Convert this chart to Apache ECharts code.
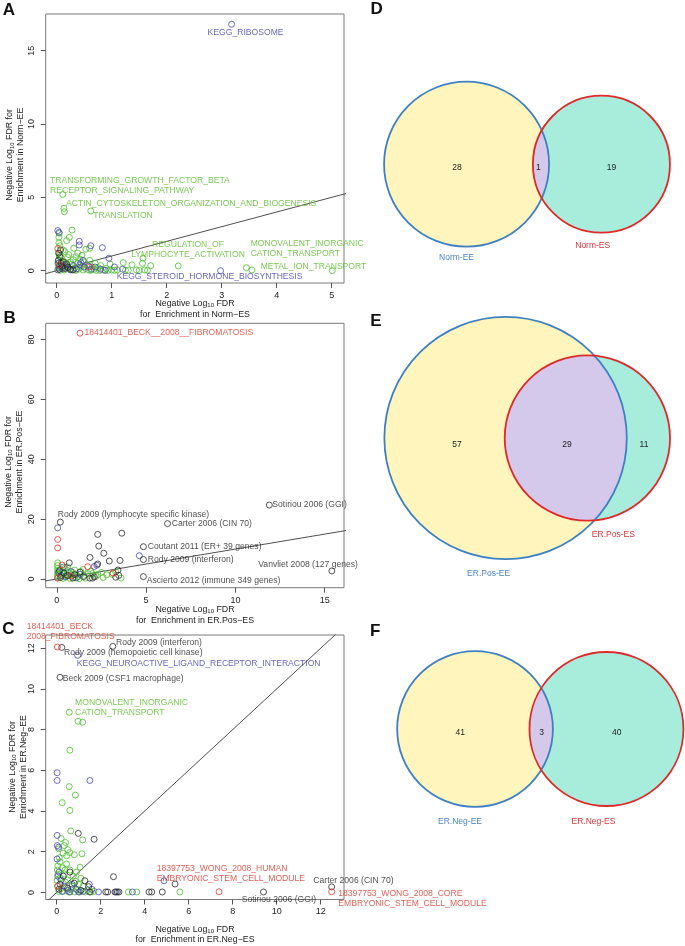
<!DOCTYPE html>
<html><head><meta charset="utf-8">
<script src="https://cdn.jsdelivr.net/npm/echarts@6/dist/echarts.min.js"></script>
<style>html,body{margin:0;padding:0;background:#fff}#c{width:685px;height:946px}</style>
</head><body><div id="c"></div>
<script>
// ================= DATA =================
const aTicksX = [0,1,2,3,4,5];
const aTicksY = [0,5,10,15];
const bTicksX = [0,5,10,15];
const bTicksY = [0,20,40,60,80];
const cTicksX = [0,2,4,6,8,10,12];
const cTicksY = [0,2,4,6,8,10,12];

// Panel A (x: Norm-ES, y: Norm-EE)
const aGreen = [[0.11,5.2],[0.13,4.25],[0.14,4.02],[0.62,4.07],[0.05,2.55],[0.04,2.28],[0.28,2.77],[0.23,2.27],[0.18,2.05],
[0.31,1.53],[0.53,1.46],[0.6,1.53],[0.04,1.9],[0.06,1.7],[0.03,1.2],[0.05,1.05],[0.08,0.9],[0.04,0.75],[0.1,0.6],[0.02,0.5],[0.07,0.35],[0.03,0.2],[0.12,0.1],
[0.2,0.9],[0.25,0.6],[0.3,0.75],[0.35,0.95],[0.38,0.5],[0.42,0.8],[0.45,0.3],[0.5,0.6],[0.55,0.4],[0.6,0.7],[0.65,0.25],[0.7,0.5],[0.75,0.2],[0.8,0.35],
[0.18,0.3],[0.22,0.15],[0.28,0.05],[0.33,0.2],[0.4,0.1],[0.48,0.05],[0.52,0.15],[0.58,0.05],[0.68,0.1],[0.72,0.02],[0.85,0.05],[0.9,0.15],[0.97,0.45],[1.0,0.05],[1.05,0.02],[1.1,0.05],[1.21,0.55],[1.25,0.03],[1.3,0.02],[1.37,0.4],[1.45,0.05],[1.5,0.02],[1.56,0.5],[1.57,0.85],[1.6,0.05],[1.71,0.34],[1.65,0.02],
[2.21,0.32],[3.45,0.2],[3.55,0.05],[5.01,0.0],
[0.15,1.3],[0.22,1.1],[0.12,1.4],[0.38,1.2],[0.46,1.05],[0.27,0.45],[0.16,0.55],[0.09,0.2],[0.14,0.05],[0.06,0.02],[0.35,0.02],[0.62,0.02],[0.78,0.02],[0.93,0.02]];
const aBlue = [[3.18,16.8],[0.02,2.73],[0.04,2.6],[0.41,2.0],[0.41,1.75],[0.62,1.7],[0.83,1.57],[0.95,0.85],[2.98,0.0],
[0.03,0.5],[0.05,0.3],[0.1,0.15],[0.15,0.4],[0.2,0.2],[0.3,0.35],[0.36,0.12],[0.44,0.55],[0.5,0.25],[0.58,0.3],[0.63,0.1],[0.7,0.25],[0.48,0.7],[0.42,0.4],[0.25,0.05],[0.8,0.1],[0.02,0.05],[1.05,0.25],[1.2,0.1],[0.88,0.02]];
const aBlack = [[0.07,1.42],[0.04,1.2],[0.06,0.95],[0.03,0.7],[0.08,0.5],[0.1,0.3],[0.05,0.1],[0.15,0.15],[0.2,0.25],[0.25,0.1],[0.12,0.6],[0.3,0.05],[0.18,0.45]];
const aRed = [[0.02,1.5],[0.6,0.25],[0.05,0.4]];
const aLabels = [
 [3.18,16.8,'KEGG_RIBOSOME','blue'],
 [0.11,5.2,'TRANSFORMING_GROWTH_FACTOR_BETA\nRECEPTOR_SIGNALING_PATHWAY','green'],
 [0.13,4.25,'ACTIN_CYTOSKELETON_ORGANIZATION_AND_BIOGENESIS','green'],
 [0.62,4.07,'TRANSLATION','green'],
 [1.57,0.85,'REGULATION_OF\nLYMPHOCYTE_ACTIVATION','green'],
 [3.45,0.2,'MONOVALENT_INORGANIC\nCATION_TRANSPORT','green'],
 [3.55,0.05,'METAL_ION_TRANSPORT','green'],
 [2.98,0,'KEGG_STEROID_HORMONE_BIOSYNTHESIS','blue']
];

// Panel B (x: ER.Pos-ES, y: ER.Pos-EE)
const bGreen = [[0.05,5.4],[0.6,4.0],[1.47,3.2],[2.5,2.2],[2.8,1.4],[3.6,0.3],[2.0,1.8],[0.05,4.5],[0.05,3.6],[0.05,2.8],[0.05,2.0],[0.05,1.2],[0.05,0.5],
[0.2,3.2],[0.3,2.4],[0.4,1.5],[0.5,0.6],[0.6,2.8],[0.7,1.9],[0.8,0.9],[0.9,2.2],[1.0,0.4],[1.1,1.4],[1.2,0.8],[1.35,2.5],[1.5,1.2],[1.6,0.3],[1.75,1.8],[1.9,2.6],
[2.2,0.9],[2.3,1.5],[1.0,3.0],[0.35,0.2],[0.15,1.7],[0.75,0.2],[1.25,0.1],[2.6,0.5],[0.45,3.6],[0.85,1.4],[3.1,1.6],[3.3,2.4],[0.25,0.9],[0.55,1.1]];
const bBlue = [[0.05,17.1],[4.62,7.8],[2.24,4.6],[0.37,4.0],[1.3,1.6],[0.1,2.2],[0.5,0.8],[0.8,2.5],[1.1,0.4],[0.25,1.2],[2.1,4.2]];
const bBlack = [[11.9,24.7],[0.2,19.0],[6.2,18.5],[4.85,10.8],[4.85,6.5],[15.4,2.7],[4.85,0.8],[2.29,14.9],[3.64,15.3],[2.35,11.0],[2.63,8.6],[1.86,7.2],[2.94,6.0],[3.54,6.2],[2.29,5.0],[0.7,5.4],
[3.43,3.0],[3.47,1.2],[3.3,0.6],[1.85,0.3],[2.0,0.3],[2.1,0.7],[0.4,2.0],[0.6,1.2],[1.0,1.5],[0.2,0.5],[0.9,0.3],[1.3,2.3],[0.15,2.8],[1.5,0.8]];
const bRed = [[1.3,82.1],[0.05,13.2],[0.05,10.4],[0.3,4.7],[1.73,4.1],[3.15,2.0],[0.05,0.3],[0.8,1.0]];
const bLabels = [
 [1.3,82.1,'18414401_BECK__2008__FIBROMATOSIS','red'],
 [11.9,24.7,'Sotiriou 2006 (GGI)','black'],
 [0.2,19.0,'Rody 2009 (lymphocyte specific kinase)','black'],
 [6.2,18.5,'Carter 2006 (CIN 70)','black'],
 [4.85,10.8,'Coutant 2011 (ER+ 39 genes)','black'],
 [4.85,6.5,'Rody 2009 (interferon)','black'],
 [15.4,2.7,'Vanvliet 2008 (127 genes)','black'],
 [4.85,0.8,'Ascierto 2012 (immune 349 genes)','black']
];

// Panel C (x: ER.Neg-ES, y: ER.Neg-EE)
const cGreen = [[0.57,8.85],[0.97,8.41],[1.18,8.36],[0.6,6.99],[0.57,5.2],[0.85,4.78],[0.25,4.41],[0.6,4.03],[0.64,3.02],[1.18,2.58],[0.2,2.65],[0.4,2.45],[0.34,2.3],[0.09,2.14],
[0.29,1.93],[0.59,1.96],[0.8,1.85],[1.15,1.9],[0.45,1.8],[1.06,1.24],[0.05,1.3],[0.03,1.1],[0.06,0.9],[0.02,0.6],[0.04,0.3],[0.15,1.5],[0.25,1.2],[0.35,0.9],[0.45,1.4],
[0.5,0.6],[0.6,1.1],[0.7,0.3],[0.75,0.8],[0.85,0.55],[0.9,1.0],[1.0,0.4],[1.1,0.7],[0.15,0.7],[0.2,0.2],[0.3,0.05],[0.4,0.5],[0.55,0.02],[0.65,0.15],[0.8,0.02],[0.95,0.1],
[1.05,0.02],[1.2,0.3],[1.3,0.02],[1.4,0.1],[1.55,0.02],[1.7,0.05],[3.26,0.02],[3.64,0.02],[5.6,0.02],[0.1,0.05],[0.12,1.7],[0.5,2.1],[0.38,1.1]];
const cBlue = [[0.95,11.65],[0.02,5.88],[0.02,5.5],[1.51,5.5],[0.02,2.8],[0.03,2.3],[0.08,2.22],[0.02,1.64],[4.88,0.57],[3.44,0.02],[0.1,1.0],[0.2,0.6],[0.35,0.3],[0.5,0.1],
[0.7,0.4],[0.9,0.15],[1.2,0.05],[1.48,0.4],[1.6,0.15],[0.05,0.8],[0.25,0.05],[0.6,0.02],[1.0,0.02],[1.9,0.02],[2.7,0.02]];
const cBlack = [[2.55,12.09],[0.23,12.04],[0.15,10.57],[0.98,2.9],[1.7,2.61],[0.6,1.0],[1.28,0.57],[1.45,0.28],[2.58,0.77],[5.38,0.41],[12.5,0.27],[9.4,0.02],
[2.23,0.02],[2.32,0.02],[2.65,0.02],[2.76,0.02],[2.83,0.02],[4.2,0.02],[4.32,0.02],[4.8,0.02],[0.3,0.8],[0.15,0.4],[0.5,0.2],[1.1,0.1],[1.5,0.02],[0.8,0.45],[0.1,0.15]];
const cRed = [[0.03,12.06],[7.38,0.03],[12.5,0.03],[0.05,0.3]];
const cLabels = [
 [0.03,12.06,'18414401_BECK\n2008_FIBROMATOSIS','red'],
 [2.55,12.09,'Rody 2009 (interferon)','black'],
 [0.23,12.04,'Rody 2009 (hemopoietic cell kinase)','black'],
 [0.95,11.65,'KEGG_NEUROACTIVE_LIGAND_RECEPTOR_INTERACTION','blue'],
 [0.15,10.57,'Beck 2009 (CSF1 macrophage)','black'],
 [0.57,8.85,'MONOVALENT_INORGANIC\nCATION_TRANSPORT','green'],
 [7.38,0.03,'18397753_WONG_2008_HUMAN\nEMBRYONIC_STEM_CELL_MODULE','red'],
 [12.5,0.27,'Carter 2006 (CIN 70)','black'],
 [12.5,0.03,'18397753_WONG_2008_CORE\nEMBRYONIC_STEM_CELL_MODULE','red'],
 [9.4,0.02,'Sotiriou 2006 (GGI)','black']
];

// Venn diagrams: [left only, both, right only]
const vennDNames = ['Norm-EE','Norm-ES'];
const vennDCounts = [28,1,19];
const vennENames = ['ER.Pos-EE','ER.Pos-ES'];
const vennECounts = [57,29,11];
const vennFNames = ['ER.Neg-EE','ER.Neg-ES'];
const vennFCounts = [41,3,40];

// ================= LAYOUT / STYLE =================
const FONT = '"Liberation Sans", Arial, Helvetica, sans-serif';
const PCOL = {green:'#48bf2a', blue:'#4848b2', black:'#2b2b2b', red:'#e0362c'};
const LCOL = {green:'#55bb25', blue:'#3f3fa8', black:'#1e1e1e', red:'#d8382c'};
const aLabelPos = [['left',-24,8],['left',-12.7,-8.4],['left',2.2,-5],['left',2.5,5],['center',45,-8.2],['left',4.2,-19],['left',8.7,-3.3],['left',-103.9,6]];
const bLabelPos = [['left',4.4,-0.4],['left',3,0],['left',-2.6,-7],['left',4.2,0],['left',4.3,0],['left',4.3,0.5],['left',-73.6,-6],['left',3.3,4]];
const cLabelPos = [['left',-30.7,-15.3],['left',3.2,-4.1],['left',2.2,5.3],['left',-0.9,8.7],['left',2.7,1.7],['left',5.8,-4.3],['left',-62.4,-17.8],['left',-18.4,-6.2],['left',6.6,6.7],['left',-21.8,7.3]];

const panels = [
 {left:45.7, top:14, width:298.3, height:269, x:[-0.2,5.224], y:[-0.84,17.5], tx:aTicksX, ty:aTicksY,
  pts:{green:aGreen, blue:aBlue, black:aBlack, red:aRed}, labels:aLabels, lpos:aLabelPos},
 {left:45.7, top:323.3, width:298.3, height:264.4, x:[-0.62,16.08], y:[-2.9,85.4], tx:bTicksX, ty:bTicksY,
  pts:{green:bGreen, blue:bBlue, black:bBlack, red:bRed}, labels:bLabels, lpos:bLabelPos},
 {left:45.7, top:635, width:298.3, height:264.5, x:[-0.5,13.06], y:[-0.35,12.65], tx:cTicksX, ty:cTicksY,
  pts:{green:cGreen, blue:cBlue, black:cBlack, red:cRed}, labels:cLabels, lpos:cLabelPos}
];

const venns = [
 {names:vennDNames, counts:vennDCounts, cx:527, cy:164.2, k:15.32, numDy:3.5, nudge:[-1.5,-2.5,2], cat:[[-10,11],[-8.7,12.7]]},
 {names:vennENames, counts:vennECounts, cx:527.2, cy:438, k:13.07, numDy:7, nudge:[12.4,1.2,-4.4], cat:[[-17,14.8],[26,14]]},
 {names:vennFNames, counts:vennFCounts, cx:540.3, cy:729, k:11.74, numDy:3.5, nudge:[-3,0.4,-1.5], cat:[[-15,15],[-13,16]]}
];

// ================= BUILD =================
const grids = [], xAxes = [], yAxes = [], series = [];
panels.forEach((p, i) => {
  grids.push({left:p.left, top:p.top, width:p.width, height:p.height, show:true, borderColor:'#7a7a7a', borderWidth:1, backgroundColor:'transparent'});
  xAxes.push({type:'value', gridIndex:i, min:p.x[0], max:p.x[1], position:'bottom',
    axisLine:{show:false, onZero:false}, splitLine:{show:false},
    axisTick:{show:true, inside:false, length:5, customValues:p.tx, lineStyle:{color:'#555', width:1}},
    axisLabel:{customValues:p.tx, margin:8, fontSize:9, color:'#222', fontFamily:FONT}});
  yAxes.push({type:'value', gridIndex:i, min:p.y[0], max:p.y[1], position:'left',
    axisLine:{show:false, onZero:false}, splitLine:{show:false},
    axisTick:{show:true, inside:false, length:5, customValues:p.ty, lineStyle:{color:'#555', width:1}},
    axisLabel:{customValues:p.ty, margin:10, rotate:90, fontSize:9, color:'#222', fontFamily:FONT}});
  const lo = Math.min(p.x[0], p.y[0]), hi = Math.max(p.x[1], p.y[1]);
  series.push({type:'line', xAxisIndex:i, yAxisIndex:i, data:[[lo,lo],[hi,hi]], symbol:'none', clip:true, silent:true,
    lineStyle:{color:'#505050', width:1}, z:1});
  ['green','blue','black','red'].forEach(g => {
    series.push({type:'scatter', xAxisIndex:i, yAxisIndex:i, data:p.pts[g], symbol:'circle', symbolSize:6, clip:false, silent:true,
      itemStyle:{color:'rgba(255,255,255,0)', borderColor:PCOL[g], borderWidth:1}, z:2});
  });
  series.push({type:'scatter', xAxisIndex:i, yAxisIndex:i, symbolSize:1, clip:false, silent:true, z:5,
    itemStyle:{color:'rgba(0,0,0,0)'},
    data:p.labels.map((l, j) => ({value:[l[0], l[1]], label:{show:true, formatter:l[2], position:'inside',
      align:p.lpos[j][0], verticalAlign:'middle', offset:[p.lpos[j][1], p.lpos[j][2]],
      color:LCOL[l[3]], fontSize:8.6, lineHeight:10, fontFamily:FONT}}))});
});

// Venn grid: units = page pixels
grids.push({left:0, top:0, width:685, height:946, show:false});
xAxes.push({type:'value', gridIndex:3, min:0, max:685, show:false});
yAxes.push({type:'value', gridIndex:3, min:0, max:946, inverse:true, show:false});

function lensArea(d, r1, r2) {
  if (d >= r1 + r2) return 0;
  if (d <= Math.abs(r1 - r2)) return Math.PI * Math.min(r1, r2) ** 2;
  const a1 = r1*r1*Math.acos((d*d + r1*r1 - r2*r2) / (2*d*r1));
  const a2 = r2*r2*Math.acos((d*d + r2*r2 - r1*r1) / (2*d*r2));
  const t = 0.5*Math.sqrt((-d+r1+r2)*(d+r1-r2)*(d-r1+r2)*(d+r1+r2));
  return a1 + a2 - t;
}
function solveD(r1, r2, target) {
  let lo = Math.abs(r1 - r2) + 1e-9, hi = r1 + r2;
  for (let i = 0; i < 80; i++) { const m = (lo + hi) / 2; if (lensArea(m, r1, r2) > target) lo = m; else hi = m; }
  return (lo + hi) / 2;
}
function vennGeom(v) {
  const n1 = v.counts[0] + v.counts[1], n2 = v.counts[1] + v.counts[2];
  const r1 = v.k * Math.sqrt(n1), r2 = v.k * Math.sqrt(n2);
  const d = solveD(r1, r2, Math.PI * v.k * v.k * v.counts[1]);
  const ext0 = Math.min(-r1, d - r2), ext1 = Math.max(r1, d + r2);
  const c1 = v.cx - (ext0 + ext1) / 2, c2 = c1 + d;
  return {r1, r2, d, c1, c2, cy:v.cy};
}

series.push({type:'custom', xAxisIndex:3, yAxisIndex:3, data:[[0],[1],[2]], silent:true, clip:false, z:3,
  renderItem: (params, api) => {
    const v = venns[api.value(0)];
    const g = vennGeom(v);
    const P = (x, y) => api.coord([x, y]);
    const R = r => api.size([r, 0])[0];
    const ch = [];
    const C1 = P(g.c1, g.cy), C2 = P(g.c2, g.cy);
    ch.push({type:'circle', shape:{cx:C1[0], cy:C1[1], r:R(g.r1)}, style:{fill:'#fff5bd', stroke:null}});
    ch.push({type:'circle', shape:{cx:C2[0], cy:C2[1], r:R(g.r2)}, style:{fill:'#a8ecdc', stroke:null}});
    const a = (g.d*g.d + g.r1*g.r1 - g.r2*g.r2) / (2*g.d);
    const h = Math.sqrt(Math.max(0, g.r1*g.r1 - a*a));
    const t1 = Math.atan2(h, a), t2 = Math.atan2(h, g.d - a);
    const pts = [];
    const N = 80;
    for (let i = 0; i <= N; i++) { const t = -t1 + 2*t1*i/N; pts.push(P(g.c1 + g.r1*Math.cos(t), g.cy + g.r1*Math.sin(t))); }
    for (let i = 0; i <= N; i++) { const t = Math.PI - t2 + 2*t2*i/N; pts.push(P(g.c2 + g.r2*Math.cos(t), g.cy + g.r2*Math.sin(t))); }
    ch.push({type:'polygon', shape:{points:pts}, style:{fill:'#d4c9eb', stroke:null}});
    ch.push({type:'circle', shape:{cx:C1[0], cy:C1[1], r:R(g.r1)}, style:{fill:null, stroke:'#3f80c2', lineWidth:1.8}});
    ch.push({type:'circle', shape:{cx:C2[0], cy:C2[1], r:R(g.r2)}, style:{fill:null, stroke:'#de2a2a', lineWidth:1.8}});
    const xs = [
      (g.c1 - g.r1 + g.c2 - g.r2) / 2,
      (g.c2 - g.r2 + g.c1 + g.r1) / 2,
      (g.c1 + g.r1 + g.c2 + g.r2) / 2
    ];
    xs.forEach((x, i) => {
      const q = P(x + v.nudge[i], g.cy + v.numDy);
      ch.push({type:'text', x:q[0], y:q[1], style:{text:String(v.counts[i]), fontSize:8.5, fontFamily:FONT, fill:'#222', align:'center', verticalAlign:'middle'}});
    });
    const q1 = P(g.c1 + v.cat[0][0], g.cy + g.r1 + v.cat[0][1]);
    const q2 = P(g.c2 + v.cat[1][0], g.cy + g.r2 + v.cat[1][1]);
    ch.push({type:'text', x:q1[0], y:q1[1], style:{text:v.names[0], fontSize:8.5, fontFamily:FONT, fill:'#4a86c4', align:'center', verticalAlign:'middle'}});
    ch.push({type:'text', x:q2[0], y:q2[1], style:{text:v.names[1], fontSize:8.5, fontFamily:FONT, fill:'#d8343a', align:'center', verticalAlign:'middle'}});
    return {type:'group', children:ch};
  }
});

const rich = {t:{fontSize:8.8, fontFamily:FONT, fill:'#222', lineHeight:10.5}, s:{fontSize:6, fontFamily:FONT, fill:'#222', lineHeight:10.5, padding:[4,0,0,0]}};
function xt(x, y, which) {
  return {type:'text', x, y, silent:true, style:{text:'{t|Negative Log}{s|10}{t| FDR}\n{t|for  Enrichment in ' + which + '}', rich, align:'center', verticalAlign:'middle'}};
}
function yt(x, y, which) {
  return {type:'text', x, y, rotation:Math.PI/2, silent:true, style:{text:'{t|Negative Log}{s|10}{t| FDR for}\n{t|Enrichment in ' + which + '}', rich, align:'center', verticalAlign:'middle'}};
}
function letter(x, y, s) {
  return {type:'text', x, y, silent:true, style:{text:s, fontSize:17, fontWeight:'bold', fontFamily:FONT, fill:'#111', align:'center', verticalAlign:'middle'}};
}
const graphic = [
  xt(195, 309, 'Norm\u2212ES'), xt(195, 615, 'ER.Pos\u2212ES'), xt(195, 934.5, 'ER.Neg\u2212ES'),
  yt(15.3, 155, 'Norm\u2212EE'), yt(14, 462, 'ER.Pos\u2212EE'), yt(18, 767, 'ER.Neg\u2212EE'),
  letter(9, 10, 'A'), letter(9.7, 318.7, 'B'), letter(8.3, 629, 'C'),
  letter(376.7, 9.7, 'D'), letter(376, 321, 'E'), letter(375.3, 631.7, 'F')
];

const chart = echarts.init(document.getElementById('c'), null, {renderer:'canvas'});
chart.setOption({animation:false, backgroundColor:'#fff', grid:grids, xAxis:xAxes, yAxis:yAxes, series, graphic});
</script>
</body></html>
